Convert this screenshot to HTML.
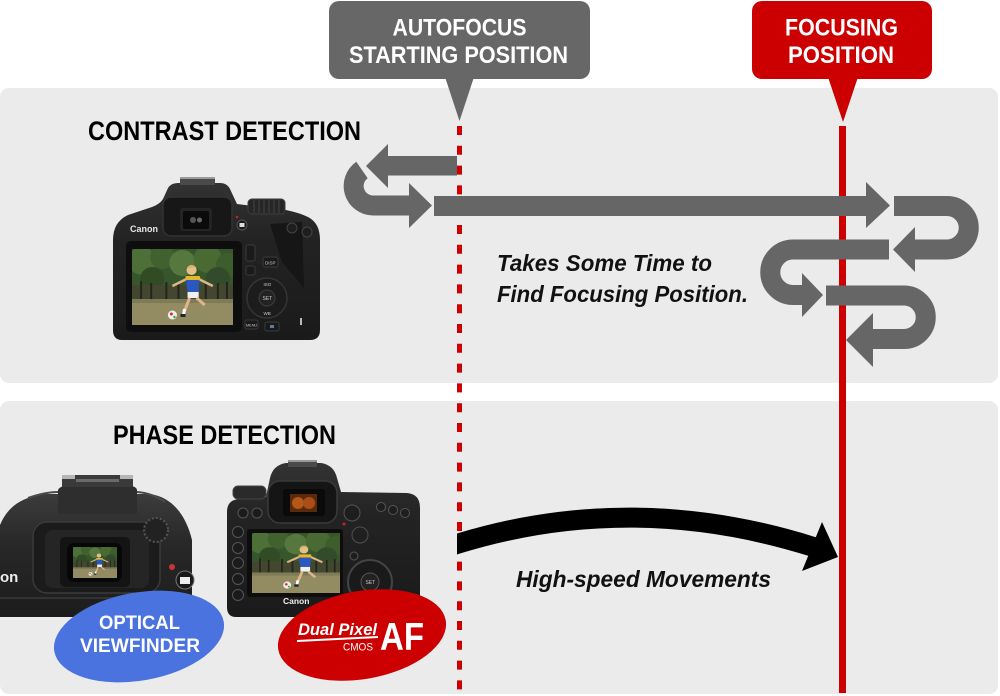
<!DOCTYPE html>
<html><head><meta charset="utf-8"><style>
html,body{margin:0;padding:0;background:#fff;}
svg{display:block;}
text{font-family:"Liberation Sans",Arial,sans-serif;}
</style></head><body>
<svg width="1000" height="696" viewBox="0 0 1000 696" xmlns="http://www.w3.org/2000/svg">
<defs>
 <clipPath id="clipR"><rect x="457" y="400" width="420" height="250"/></clipPath>
 <linearGradient id="bodyG" x1="0" y1="0" x2="0" y2="1"><stop offset="0" stop-color="#333"/><stop offset="0.35" stop-color="#232323"/><stop offset="1" stop-color="#1a1a1a"/></linearGradient>
 <linearGradient id="bodyG2" x1="0" y1="0" x2="0" y2="1"><stop offset="0" stop-color="#3c3c3c"/><stop offset="0.4" stop-color="#282828"/><stop offset="1" stop-color="#1c1c1c"/></linearGradient>
 <symbol id="photo" viewBox="0 0 100 76" preserveAspectRatio="none">
  <rect width="100" height="76" fill="#37562b"/>
  <circle cx="10" cy="12" r="14" fill="#4d6f38"/>
  <circle cx="30" cy="8" r="12" fill="#41612f"/>
  <circle cx="50" cy="14" r="13" fill="#56773e"/>
  <circle cx="75" cy="10" r="14" fill="#4a6a34"/>
  <circle cx="95" cy="16" r="12" fill="#3d5d2d"/>
  <circle cx="20" cy="30" r="12" fill="#314c25"/>
  <circle cx="85" cy="30" r="12" fill="#324c2b"/>
  <rect y="36" width="100" height="16" fill="#44472f"/>
  <rect x="8" y="32" width="2" height="20" fill="#25251c"/>
  <rect x="18" y="34" width="2" height="18" fill="#25251c"/>
  <rect x="33" y="33" width="2" height="19" fill="#25251c"/>
  <rect x="45" y="35" width="2" height="17" fill="#25251c"/>
  <rect x="72" y="33" width="2" height="19" fill="#25251c"/>
  <rect x="84" y="34" width="2" height="18" fill="#25251c"/>
  <rect x="93" y="33" width="2" height="19" fill="#25251c"/>
  <rect y="50" width="100" height="26" fill="#938c63"/>
  <rect y="50" width="100" height="4" fill="#7e7c57"/>
  <path d="M40,37 L54,30" stroke="#e2b48a" stroke-width="2.5"/>
  <path d="M66,30 L80,37" stroke="#e2b48a" stroke-width="2.5"/>
  <path d="M53,28 L67,28 L66,44 L55,44 Z" fill="#2b57c0"/>
  <path d="M53,27 L67,27 L68,31 L53,31Z" fill="#e8b62a"/>
  <circle cx="59" cy="21" r="5" fill="#e6c08c"/>
  <path d="M54,20 Q59,13 64,19 Q60,17 54,20" fill="#d9b25a"/>
  <rect x="55" y="43" width="11" height="6" fill="#f0f0f0"/>
  <path d="M57,49 L52,62" stroke="#e2b48a" stroke-width="3"/>
  <path d="M64,49 L72,56" stroke="#e2b48a" stroke-width="3"/>
  <path d="M52,60 L51,66" stroke="#fff" stroke-width="3"/>
  <rect x="48" y="65" width="5" height="3" fill="#223"/>
  <circle cx="40" cy="66" r="4.5" fill="#eee"/>
  <circle cx="39" cy="65" r="1.5" fill="#c33"/>
  <circle cx="42" cy="68" r="1.2" fill="#3a3"/>
 </symbol>
</defs>

<rect width="1000" height="696" fill="#fff"/>
<rect x="0" y="88" width="998" height="295" rx="9" fill="#ebebeb"/>
<rect x="0" y="401" width="998" height="293" rx="9" fill="#ebebeb"/>

<rect x="329" y="1" width="261" height="78" rx="10" fill="#676767"/>
<polygon points="445,77 474,77 459.5,121" fill="#676767"/>
<text x="459.5" y="35.5" font-size="24" font-weight="bold" fill="#fff" text-anchor="middle" textLength="134" lengthAdjust="spacingAndGlyphs">AUTOFOCUS</text>
<text x="458.5" y="63" font-size="24" font-weight="bold" fill="#fff" text-anchor="middle" textLength="219" lengthAdjust="spacingAndGlyphs">STARTING POSITION</text>

<rect x="752" y="1" width="180" height="78" rx="10" fill="#cc0000"/>
<polygon points="828,77 858,77 843,122" fill="#cc0000"/>
<text x="841.5" y="35.5" font-size="24" font-weight="bold" fill="#fff" text-anchor="middle" textLength="113" lengthAdjust="spacingAndGlyphs">FOCUSING</text>
<text x="841" y="63" font-size="24" font-weight="bold" fill="#fff" text-anchor="middle" textLength="106" lengthAdjust="spacingAndGlyphs">POSITION</text>

<line x1="459.5" y1="126" x2="459.5" y2="693" stroke="#cc0000" stroke-width="5" stroke-dasharray="9 10.8"/>
<rect x="839" y="126" width="7" height="567" fill="#cc0000"/>

<text x="88" y="140" font-size="27" font-weight="bold" fill="#000" textLength="273" lengthAdjust="spacingAndGlyphs">CONTRAST DETECTION</text>
<text x="113" y="444" font-size="27" font-weight="bold" fill="#000" textLength="223" lengthAdjust="spacingAndGlyphs">PHASE DETECTION</text>

<g fill="#666666">
 <path d="M362,170 A19.5 19.5 0 0 0 373,205.5 L411,205.5" fill="none" stroke="#666666" stroke-width="20"/>
 <polygon points="409,183 432,205.5 409,228"/>
 <polygon points="388,144 366,166 388,188" stroke="#ebebeb" stroke-width="6" paint-order="stroke" stroke-linejoin="miter"/>
 <rect x="386" y="156" width="71" height="19.5"/>
 <rect x="434" y="196" width="434" height="20"/>
 <polygon points="866,182 890,205.5 866,228"/>
 <path d="M894,206 L947,206 A21.75 21.75 0 0 1 947,249.5 L913,249.5" fill="none" stroke="#666666" stroke-width="20"/>
 <polygon points="915,227 893,249.5 915,272"/>
 <path d="M889,249.5 L793,249.5 A22.75 22.75 0 0 0 793,295 L804,295" fill="none" stroke="#666666" stroke-width="20"/>
 <polygon points="802,273 823,295 802,317"/>
 <path d="M826,295.5 L904,295.5 A21.75 21.75 0 0 1 904,339 L871,339" fill="none" stroke="#666666" stroke-width="20"/>
 <polygon points="873,313 846,340 873,367"/>
</g>

<text x="497" y="271" font-size="23" font-weight="bold" font-style="italic" fill="#111" textLength="215" lengthAdjust="spacingAndGlyphs">Takes Some Time to</text>
<text x="497" y="302" font-size="23" font-weight="bold" font-style="italic" fill="#111" textLength="251" lengthAdjust="spacingAndGlyphs">Find Focusing Position.</text>

<path d="M457,544 Q631.5,490 812,546.5" fill="none" stroke="#000" stroke-width="20" stroke-linecap="square" clip-path="url(#clipR)"/>
<polygon points="822,522 838,557 802,571" fill="#000"/>
<text x="516" y="587" font-size="23" font-weight="bold" font-style="italic" fill="#111" textLength="255" lengthAdjust="spacingAndGlyphs">High-speed Movements</text>

<g>
 <path d="M122,340 Q113,340 113,330 L113,240 Q113,222 128,215 L152,207 Q160,204 163,199 L168,188 Q171,183 178,183 L220,183 Q227,183 230,189 L237,204 L286,210 Q300,213 308,217 Q320,223 320,240 L320,330 Q320,340 310,340 Z" fill="url(#bodyG)"/>
 <rect x="180" y="177" width="35" height="8" fill="#4a4a4a"/>
 <rect x="180" y="177" width="35" height="2" fill="#9a9a9a"/>
 <rect x="248" y="199" width="37" height="15" rx="4" fill="#262626" stroke="#3e3e3e"/>
 <path d="M254,200 V213 M259,200 V213 M264,200 V213 M269,200 V213 M274,200 V213 M279,200 V213" stroke="#3a3a3a" stroke-width="1.5"/>
 <path d="M270,224 L302,222 L304,288 L282,262 Z" fill="#161616"/>
 <rect x="163" y="197" width="69" height="39" rx="8" fill="#171717" stroke="#333" stroke-width="1.5"/>
 <rect x="180" y="208" width="32" height="23" rx="3" fill="#242424"/>
 <rect x="183" y="211" width="26" height="18" rx="2" fill="#0b0b0b"/>
 <circle cx="193" cy="220" r="3" fill="#555"/>
 <circle cx="199.5" cy="220" r="2.5" fill="#6a6a6a"/>
 <text x="130" y="232" font-size="9" font-weight="bold" fill="#e8e8e8" font-family="Liberation Serif, serif">Canon</text>
 <rect x="126" y="241" width="116" height="91" rx="5" fill="#0e0e0e"/>
 <use href="#photo" x="132" y="249" width="101" height="76"/>
 <circle cx="242" cy="225" r="5" fill="#1c1c1c" stroke="#555"/>
 <rect x="239.5" y="223" width="5" height="4" fill="#ddd"/>
 <circle cx="237" cy="217" r="1.3" fill="#c22"/>
 <circle cx="292" cy="228" r="5" fill="#1e1e1e" stroke="#444"/>
 <circle cx="307" cy="232" r="5" fill="#1e1e1e" stroke="#444"/>
 <rect x="246" y="245" width="9" height="16" rx="2" fill="#1a1a1a" stroke="#3a3a3a"/>
 <rect x="246" y="266" width="9" height="9" rx="2" fill="#1a1a1a" stroke="#3a3a3a"/>
 <rect x="263" y="257" width="15" height="10" rx="2" fill="#1a1a1a" stroke="#3a3a3a"/>
 <text x="265" y="264.5" font-size="4.5" fill="#ccc">DISP</text>
 <circle cx="267" cy="298" r="20" fill="#1c1c1c" stroke="#353535" stroke-width="1.5"/>
 <circle cx="267" cy="298" r="8" fill="#232323" stroke="#3e3e3e"/>
 <text x="262.5" y="300" font-size="5" fill="#ccc">SET</text>
 <text x="263.5" y="286" font-size="4.5" fill="#ccc">ISO</text>
 <text x="263.5" y="315" font-size="4.5" fill="#ccc">WB</text>
 <rect x="245" y="320" width="13" height="9" rx="2" fill="#1a1a1a" stroke="#3a3a3a"/>
 <text x="246" y="326.5" font-size="3.8" fill="#ccc">MENU</text>
 <rect x="265" y="322" width="14" height="9" rx="2" fill="#1a1a1a" stroke="#3a3a3a"/>
 <rect x="270" y="325" width="4" height="3" fill="#5a7ab0"/>
 <rect x="300" y="318" width="2" height="7" fill="#bbb"/>
</g>

<g>
 <path d="M0,525 C8,506 22,497 45,494 L150,494 C172,497 186,515 192,540 L192,612 Q192,617 187,617 L0,617 Z" fill="url(#bodyG2)"/>
 <path d="M58,514 L58,490 Q60,486 66,486 L130,486 Q136,486 137,490 L137,514 Z" fill="#2e2e2e"/>
 <rect x="62" y="475" width="71" height="12" fill="#3a3a3a"/>
 <rect x="62" y="475" width="13" height="4" fill="#b5b5b5"/>
 <rect x="120" y="475" width="13" height="4" fill="#b5b5b5"/>
 <rect x="76" y="479" width="43" height="3" fill="#6a6a6a"/>
 <path d="M28,498 Q45,492 58,492" stroke="#4a4a4a" stroke-width="2" fill="none"/>
 <path d="M137,492 Q152,493 165,502" stroke="#4a4a4a" stroke-width="2" fill="none"/>
 <rect x="33" y="522" width="127" height="71" rx="14" fill="#1b1b1b" stroke="#3a3a3a" stroke-width="1.5"/>
 <rect x="45" y="530" width="104" height="58" rx="8" fill="#252525"/>
 <rect x="60" y="537" width="70" height="50" rx="5" fill="#141414"/>
 <rect x="67" y="543" width="55" height="39" rx="7" fill="#070707"/>
 <use href="#photo" x="73" y="547" width="44" height="31"/>
 <circle cx="156" cy="530" r="12" fill="#222" stroke="#555" stroke-width="2" stroke-dasharray="2 2"/>
 <circle cx="172" cy="567" r="3" fill="#c33"/>
 <circle cx="185" cy="580" r="9" fill="#1a1a1a" stroke="#777"/>
 <rect x="180" y="577" width="10" height="7" fill="#eee"/>
 <text x="0" y="582" font-size="15" font-weight="bold" fill="#eee" font-family="Liberation Serif, serif">on</text>
 <rect x="0" y="597" width="192" height="2" fill="#333"/>
</g>

<g>
 <path d="M236,617 Q227,617 227,607 L227,512 Q227,500 239,499 L266,497 L270,478 Q273,465 286,463 L321,463 Q334,465 337,478 L341,492 L407,493 Q420,494 420,508 L420,607 Q420,617 410,617 Z" fill="url(#bodyG)"/>
 <rect x="288" y="460" width="29" height="7" fill="#4a4a4a"/>
 <rect x="288" y="460" width="29" height="2" fill="#999"/>
 <rect x="233" y="486" width="33" height="13" rx="5" fill="#2a2a2a" stroke="#444"/>
 <rect x="268" y="481" width="69" height="42" rx="12" fill="#151515" stroke="#3a3a3a" stroke-width="1.5"/>
 <rect x="283" y="489" width="42" height="27" rx="3" fill="#0a0a0a"/>
 <rect x="290" y="494" width="27" height="18" fill="#5a2a0c"/>
 <circle cx="298" cy="503" r="6" fill="#b5561a"/>
 <circle cx="309" cy="503" r="6" fill="#a84e16"/>
 <circle cx="243" cy="513" r="5" fill="#1b1b1b" stroke="#555"/>
 <circle cx="257" cy="513" r="5" fill="#1b1b1b" stroke="#555"/>
 <rect x="247" y="529" width="96" height="68" rx="3" fill="#0d0d0d"/>
 <use href="#photo" x="252" y="533" width="88" height="60"/>
 <circle cx="238" cy="532" r="5.5" fill="#1b1b1b" stroke="#555"/>
 <circle cx="238" cy="548" r="5.5" fill="#1b1b1b" stroke="#555"/>
 <circle cx="238" cy="563" r="5.5" fill="#1b1b1b" stroke="#555"/>
 <circle cx="238" cy="579" r="5.5" fill="#1b1b1b" stroke="#555"/>
 <circle cx="238" cy="595" r="5.5" fill="#1b1b1b" stroke="#555"/>
 <circle cx="352" cy="513" r="8" fill="#1e1e1e" stroke="#555"/>
 <circle cx="381" cy="507" r="4.5" fill="#1e1e1e" stroke="#555"/>
 <circle cx="393" cy="510" r="4.5" fill="#1e1e1e" stroke="#555"/>
 <circle cx="405" cy="513" r="4.5" fill="#1e1e1e" stroke="#555"/>
 <circle cx="360" cy="535" r="8" fill="#202020" stroke="#505050"/>
 <circle cx="354" cy="556" r="4" fill="#1e1e1e" stroke="#555"/>
 <circle cx="370" cy="582" r="22" fill="#1a1a1a" stroke="#444" stroke-width="2"/>
 <circle cx="370" cy="582" r="9" fill="#222" stroke="#555"/>
 <text x="365.5" y="584" font-size="5" fill="#ccc">SET</text>
 <circle cx="344" cy="524" r="1.5" fill="#c22"/>
 <text x="283" y="604" font-size="8.5" font-weight="bold" fill="#eee" font-family="Liberation Serif, serif">Canon</text>
</g>

<ellipse cx="139" cy="636.5" rx="86" ry="44" transform="rotate(-10 139 636.5)" fill="#4a73e0"/>
<text x="99" y="629" font-size="19.5" font-weight="bold" fill="#fff" textLength="81" lengthAdjust="spacingAndGlyphs">OPTICAL</text>
<text x="80" y="652" font-size="19.5" font-weight="bold" fill="#fff" textLength="120" lengthAdjust="spacingAndGlyphs">VIEWFINDER</text>

<ellipse cx="362" cy="635" rx="85" ry="44" transform="rotate(-10 362 635)" fill="#cc0000"/>
<text x="298" y="635" font-size="17" font-weight="bold" font-style="italic" fill="#fff" textLength="79" lengthAdjust="spacingAndGlyphs">Dual Pixel</text>
<line x1="297" y1="641" x2="378" y2="637" stroke="#fff" stroke-width="2"/>
<text x="343" y="650.5" font-size="11" fill="#fff" textLength="30" lengthAdjust="spacingAndGlyphs">CMOS</text>
<text x="380" y="650" font-size="39" font-weight="bold" fill="#fff" textLength="44" lengthAdjust="spacingAndGlyphs">AF</text>
</svg>
</body></html>
